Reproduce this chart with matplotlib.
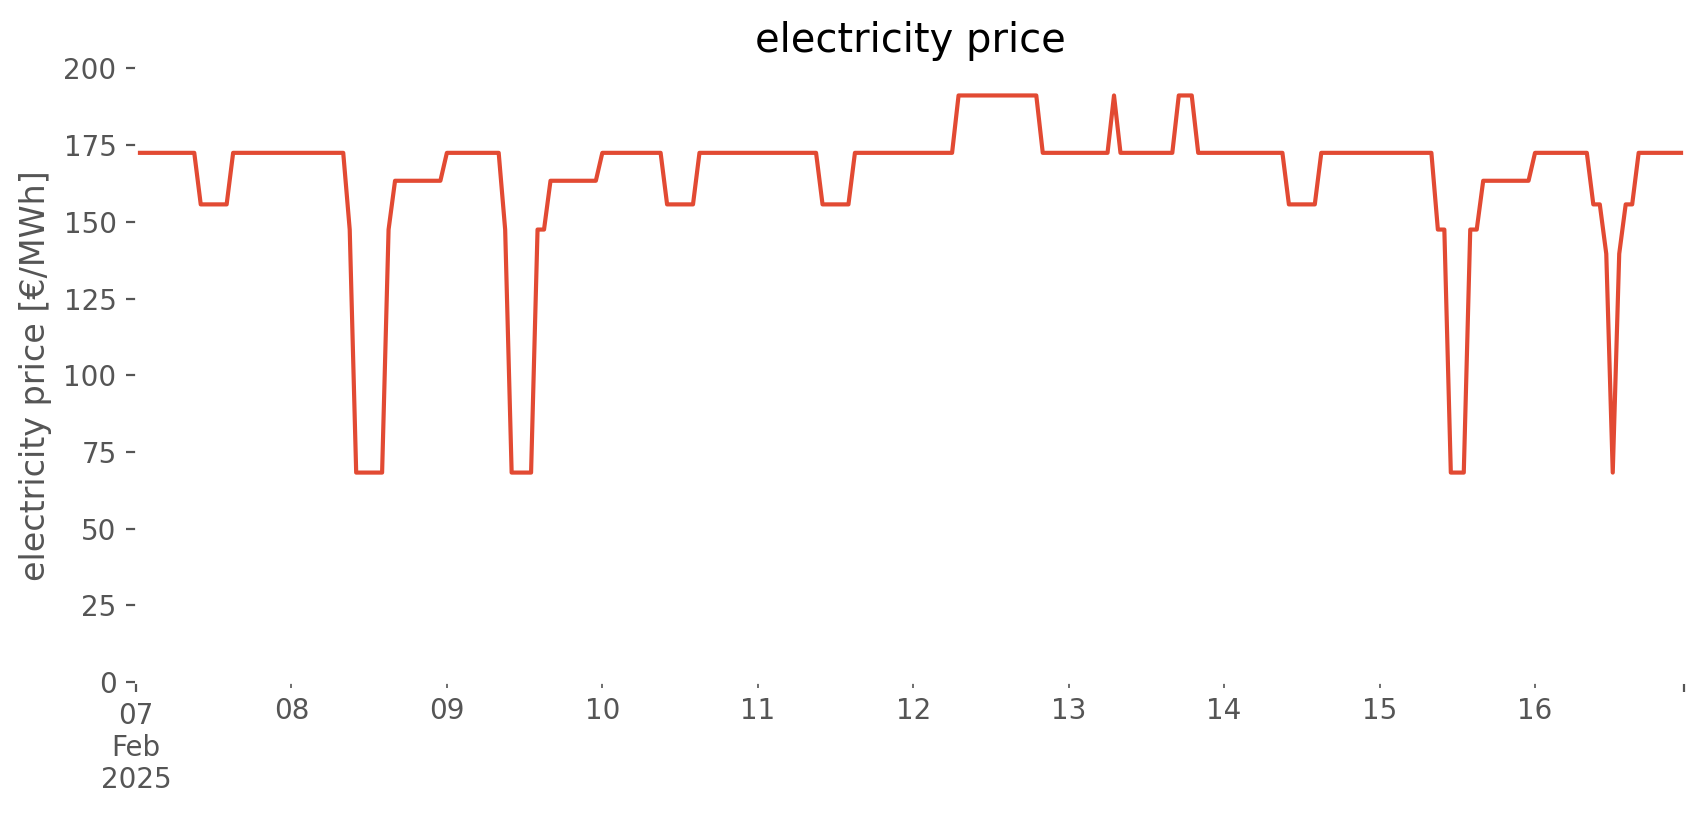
import numpy as np
import pandas as pd
from matplotlib import pyplot as plt

# hourly prices [€/MWh], one list per day (00:00 .. 23:00)
feb07 = [172.5]*10 + [155.7]*5 + [172.5]*9
feb08 = [172.5]*9 + [147.5] + [68.3]*5 + [147.5] + [163.4]*8
feb09 = [172.5]*9 + [147.5] + [68.3]*4 + [147.5]*2 + [163.4]*8
feb10 = [172.5]*10 + [155.7]*5 + [172.5]*9
feb11 = [172.5]*10 + [155.7]*5 + [172.5]*9
feb12 = [172.5]*7 + [191.2]*13 + [172.5]*4
feb13 = [172.5]*7 + [191.2] + [172.5]*9 + [191.2]*3 + [172.5]*4
feb14 = [172.5]*10 + [155.7]*5 + [172.5]*9
feb15 = [172.5]*9 + [147.5]*2 + [68.3]*3 + [147.5]*2 + [163.4]*8
feb16 = [172.5]*9 + [155.7]*2 + [139.6] + [68.3] + [139.6] + [155.7]*2 + [172.5]*8

days = [feb07, feb08, feb09, feb10, feb11, feb12, feb13, feb14, feb15, feb16]
prices = np.concatenate(days)
index = pd.date_range("2025-02-07 00:00", periods=len(prices), freq="h")
price = pd.Series(prices, index=index)

plt.style.use("ggplot")

fig = plt.figure(figsize=(8.53, 4.075), dpi=200)
ax = fig.add_axes([0.0797, 0.163, 0.9074, 0.753])
ax.set_facecolor("white")

price.plot(ax=ax, lw=1.5)

ax.set_ylim(0, 200)
ax.set_title("electricity price")
ax.set_ylabel("electricity price [€/MWh]")
ax.set_xlabel("")

fig.savefig("out.png", dpi=200, facecolor="white")
